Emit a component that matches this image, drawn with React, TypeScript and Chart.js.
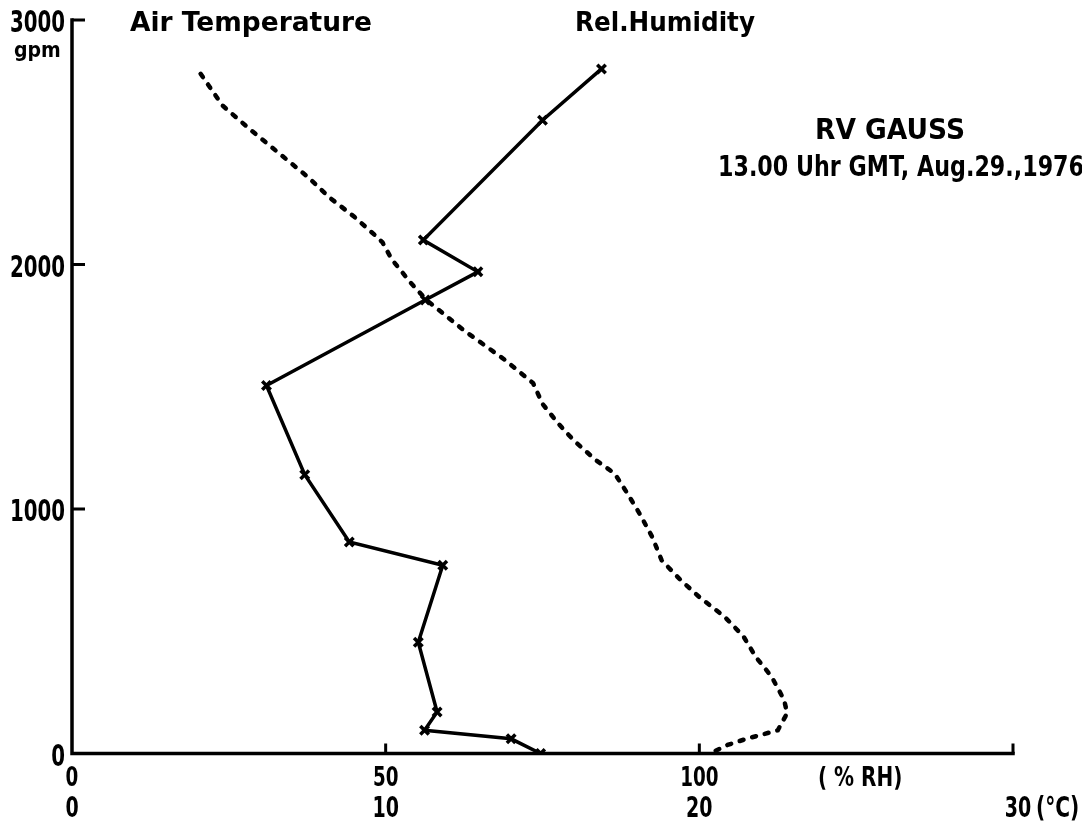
import React, { useEffect, useRef } from "react";
import { Chart, registerables } from "chart.js";

Chart.register(...registerables);

// Relative humidity profile (% RH) vs geopotential height (gpm)
const rhHeights = [2800, 2590, 2100, 1970, 1855, 1505, 1140, 865, 770, 455, 170, 95, 60, 0];
const rhValues = [84.4, 75.0, 56.0, 64.7, 56.3, 31.0, 37.1, 44.2, 59.1, 55.2, 58.2, 56.2, 70.0, 74.7];

// Air temperature profile (°C) vs geopotential height (gpm)
const tempHeights = [2780, 2650, 2550, 2455, 2360, 2275, 2195, 2115, 2090, 2020, 1925, 1855, 1730, 1610, 1515, 1430, 1350, 1280, 1200, 1145, 1065, 980, 885, 790, 710, 640, 560, 480, 395, 315, 220, 165, 95, 60, 35, 10, 0];
const tempValues = [4.1, 4.8, 5.7, 6.6, 7.5, 8.2, 9.0, 9.7, 9.9, 10.2, 10.8, 11.3, 12.5, 13.8, 14.7, 15.0, 15.5, 16.0, 16.7, 17.3, 17.7, 18.1, 18.5, 18.8, 19.4, 20.0, 20.8, 21.4, 21.8, 22.3, 22.7, 22.8, 22.5, 21.5, 20.9, 20.5, 20.3];

// Axis ticks
const heightTicks = [0, 1000, 2000, 3000];
const rhTicks = [0, 50, 100];
const rhTickMarks = [50, 100, 150];
const tempTicks = [0, 10, 20, 30];

const FONT = '"DejaVu Sans", sans-serif';

function drawScaled(ctx: any, text: string, x: number, y: number, size: number, sx: number, align: string) {
  ctx.font = `bold ${size}px ${FONT}`;
  const w = ctx.measureText(text).width * sx;
  let left = x;
  if (align === "right") left = x - w;
  else if (align === "center") left = x - w / 2;
  ctx.save();
  ctx.translate(left, y);
  ctx.scale(sx, 1);
  ctx.textAlign = "left";
  ctx.fillText(text, 0, 0);
  ctx.restore();
}

function drawFit(ctx: any, text: string, x: number, y: number, size: number, width: number) {
  ctx.font = `bold ${size}px ${FONT}`;
  const sx = width / ctx.measureText(text).width;
  drawScaled(ctx, text, x, y, size, sx, "left");
}

const decorPlugin = {
  id: "decor",
  afterDraw(chart: any) {
    const { ctx, scales } = chart;
    const xs = scales.x;
    const xt = scales.xT;
    const ys = scales.y;
    const x0 = xs.getPixelForValue(0);
    const x1 = xs.getPixelForValue(150);
    const y0 = ys.getPixelForValue(0);
    const y1 = ys.getPixelForValue(3000);
    ctx.save();
    ctx.strokeStyle = "#000";
    ctx.fillStyle = "#000";
    ctx.lineWidth = 3.5;
    ctx.lineCap = "square";
    ctx.beginPath();
    ctx.moveTo(x0, y1);
    ctx.lineTo(x0, y0);
    ctx.lineTo(x1, y0);
    ctx.stroke();
    ctx.lineCap = "butt";
    ctx.lineWidth = 3;
    ctx.beginPath();
    heightTicks.slice(1).forEach((v) => {
      const p = ys.getPixelForValue(v);
      ctx.moveTo(x0, p);
      ctx.lineTo(x0 + 13, p);
    });
    rhTickMarks.forEach((v) => {
      const p = xs.getPixelForValue(v);
      ctx.moveTo(p, y0);
      ctx.lineTo(p, y0 - 10);
    });
    ctx.stroke();

    ctx.textBaseline = "alphabetic";
    // y tick labels
    heightTicks.forEach((v) => {
      const p = ys.getPixelForValue(v);
      drawScaled(ctx, String(v), x0 - 7, p + 12, 30, 0.66, "right");
    });
    drawScaled(ctx, "gpm", 14, 57, 22, 0.86, "left");
    // x tick labels: % RH row and °C row
    rhTicks.forEach((v) => {
      drawScaled(ctx, String(v), xs.getPixelForValue(v), 786, 27, 0.68, "center");
    });
    drawScaled(ctx, "( % RH)", 818, 786, 27, 0.74, "left");
    tempTicks.forEach((v) => {
      drawScaled(ctx, String(v), xt.getPixelForValue(v) + (v === 30 ? 5 : 0), 817, 28, 0.68, "center");
    });
    drawScaled(ctx, "(°C)", 1036, 817, 28, 0.72, "left");

    // annotations
    drawFit(ctx, "Air Temperature", 130, 31, 27, 242);
    drawFit(ctx, "Rel.Humidity", 575, 31, 27, 180);
    drawFit(ctx, "RV GAUSS", 815, 139, 28, 150);
    drawFit(ctx, "13.00 Uhr GMT, Aug.29.,1976", 718, 176, 28, 366);
    ctx.restore();
  },
};

export default function App() {
  const ref = useRef<HTMLCanvasElement | null>(null);
  useEffect(() => {
    document.body.style.margin = "0";
    const canvas = ref.current;
    if (!canvas) return;
    const chart = new Chart(canvas, {
      type: "line",
      data: {
        datasets: [
          {
            label: "Air Temperature",
            data: tempValues.map((t, i) => ({ x: t, y: tempHeights[i] })),
            xAxisID: "xT",
            yAxisID: "y",
            borderColor: "#000",
            borderWidth: 4.5,
            borderDash: [4, 9],
            borderCapStyle: "round",
            pointRadius: 0,
            tension: 0,
            fill: false,
          },
          {
            label: "Rel. Humidity",
            data: rhValues.map((r, i) => ({ x: r, y: rhHeights[i] })),
            xAxisID: "x",
            yAxisID: "y",
            borderColor: "#000",
            borderWidth: 3.5,
            pointStyle: "crossRot",
            pointRadius: 6,
            pointBorderWidth: 3.5,
            pointBorderColor: "#000",
            tension: 0,
            fill: false,
          },
        ],
      },
      options: {
        responsive: false,
        animation: false,
        layout: { padding: { top: 20, right: 69, left: 72, bottom: 68.5 } },
        plugins: { legend: { display: false }, tooltip: { enabled: false } },
        scales: {
          y: { type: "linear", display: false, min: 0, max: 3000 },
          x: { type: "linear", display: false, min: 0, max: 150 },
          xT: { type: "linear", display: false, min: 0, max: 30 },
        },
      },
      plugins: [decorPlugin],
    });
    return () => chart.destroy();
  }, []);
  return (
    <div style={{ width: 1082, height: 822, background: "#fff" }}>
      <canvas ref={ref} width={1082} height={822} style={{ display: "block" }} />
    </div>
  );
}
